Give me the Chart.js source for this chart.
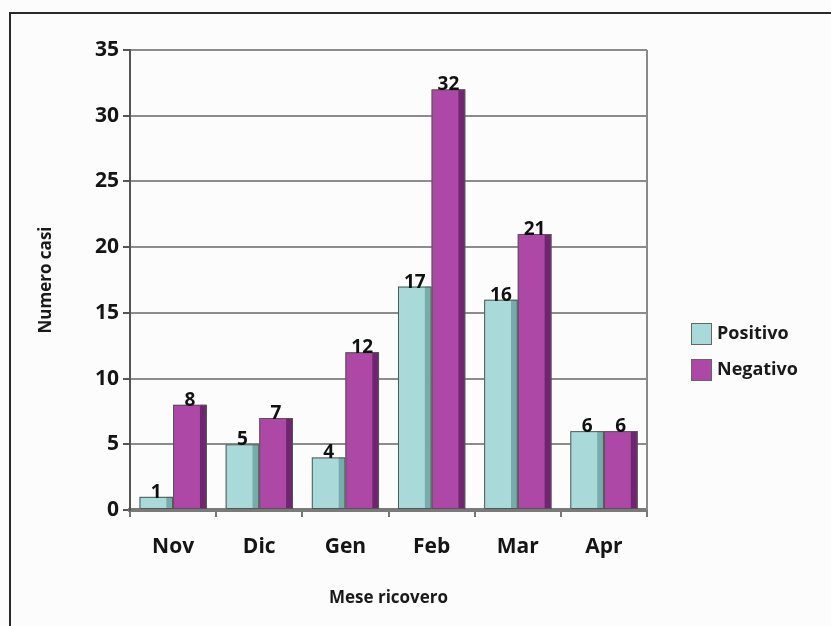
<!DOCTYPE html>
<html>
<head>
<meta charset="utf-8">
<script src="https://cdn.jsdelivr.net/npm/chart.js@4"></script>
<style>
  html, body { margin: 0; padding: 0; background: #ffffff; }
  #wrap { position: relative; width: 831px; height: 626px; }
</style>
</head>
<body>
<div id="wrap"><canvas id="grafico" width="831" height="626"></canvas></div>
<script>
// dati
const mesi = ['Nov', 'Dic', 'Gen', 'Feb', 'Mar', 'Apr'];
const positivo = [1, 5, 4, 17, 16, 6];
const negativo = [8, 7, 12, 32, 21, 6];
const tickY = [0, 5, 10, 15, 20, 25, 30, 35];

const FONT = '"Open Sans", "DejaVu Sans", sans-serif';
const coloriSerie = [
    { fill: '#a9d9d9', dark: '#76acac', label: 'Positivo' },
    { fill: '#ad48a6', dark: '#6f2570', label: 'Negativo' }
];

// cornice, ombra laterale delle barre, etichette dei valori, legenda
const decorazioni = {
    id: 'decorazioni',
    beforeDraw(chart) {
        const ctx = chart.ctx;
        ctx.save();
        ctx.fillStyle = '#fcfcfc';
        ctx.fillRect(0, 0, chart.width, chart.height);
        ctx.strokeStyle = '#2a2a2a';
        ctx.lineWidth = 2;
        ctx.beginPath();
        ctx.moveTo(10, chart.height);
        ctx.lineTo(10, 13);
        ctx.lineTo(chart.width, 13);
        ctx.stroke();
        ctx.restore();
    },
    afterDatasetsDraw(chart) {
        const ctx = chart.ctx;
        const area = chart.chartArea;
        ctx.save();
        // parete destra
        ctx.strokeStyle = '#8a8a8a';
        ctx.lineWidth = 2;
        ctx.beginPath();
        ctx.moveTo(area.right, area.top);
        ctx.lineTo(area.right, area.bottom);
        ctx.stroke();

        chart.data.datasets.forEach((ds, i) => {
            const meta = chart.getDatasetMeta(i);
            meta.data.forEach(bar => {
                const w = bar.width;
                const left = bar.x - w / 2;
                const h = bar.base - bar.y;
                ctx.fillStyle = coloriSerie[i].dark;
                ctx.fillRect(left + w * 0.8, bar.y, w * 0.2, h);
                ctx.strokeStyle = '#555';
                ctx.lineWidth = 1;
                ctx.strokeRect(left + 0.5, bar.y + 0.5, w - 1, h - 1);
            });
        });

        ctx.fillStyle = '#111';
        ctx.font = 'bold 19px ' + FONT;
        ctx.textAlign = 'center';
        ctx.textBaseline = 'alphabetic';
        chart.data.datasets.forEach((ds, i) => {
            const meta = chart.getDatasetMeta(i);
            meta.data.forEach((bar, j) => {
                ctx.fillText(String(ds.data[j]), bar.x, bar.y + 1);
            });
        });

        // legenda
        ctx.font = 'bold 18px ' + FONT;
        ctx.textAlign = 'left';
        ctx.textBaseline = 'middle';
        coloriSerie.forEach((c, i) => {
            const x = area.right + 44;
            const y = area.top + 273 + i * 36;
            ctx.fillStyle = c.fill;
            ctx.fillRect(x, y, 21, 22);
            ctx.strokeStyle = '#666';
            ctx.lineWidth = 1;
            ctx.strokeRect(x + 0.5, y + 0.5, 20, 21);
            ctx.fillStyle = '#1a1a1a';
            ctx.fillText(c.label, x + 26, y + 11);
        });
        ctx.restore();
    }
};

const ctx = document.getElementById('grafico');
new Chart(ctx, {
    type: 'bar',
    data: {
        labels: mesi,
        datasets: [
            {
                label: 'Positivo',
                data: positivo,
                backgroundColor: coloriSerie[0].fill,
                borderWidth: 0,
                categoryPercentage: 0.78,
                barPercentage: 1
            },
            {
                label: 'Negativo',
                data: negativo,
                backgroundColor: coloriSerie[1].fill,
                borderWidth: 0,
                categoryPercentage: 0.78,
                barPercentage: 1
            }
        ]
    },
    options: {
        responsive: false,
        animation: false,
        layout: {
            padding: { left: 30, right: 184, top: 50, bottom: 0 }
        },
        scales: {
            x: {
                afterFit: (scale) => { scale.height = 116; },
                grid: {
                    offset: true,
                    drawOnChartArea: false,
                    drawTicks: true,
                    tickLength: 7,
                    color: '#777',
                    lineWidth: 2
                },
                border: { display: true, color: '#7a7a7a', width: 4 },
                ticks: {
                    color: '#151515',
                    font: { family: FONT, size: 21, weight: 'bold' },
                    padding: 17
                },
                title: {
                    display: true,
                    text: 'Mese ricovero',
                    color: '#1a1a1a',
                    font: { family: FONT, size: 17, weight: 'bold' },
                    padding: { top: 0, bottom: 18 }
                }
            },
            y: {
                min: 0,
                max: 35,
                afterFit: (scale) => { scale.width = 100; },
                afterBuildTicks: (scale) => {
                    scale.ticks = tickY.map(v => ({ value: v }));
                },
                grid: {
                    color: '#8c8c8c',
                    lineWidth: 2,
                    tickLength: 7,
                    tickColor: '#555'
                },
                border: { display: true, color: '#555', width: 2 },
                ticks: {
                    color: '#151515',
                    font: { family: FONT, size: 21, weight: 'bold' },
                    padding: 4
                },
                title: {
                    display: true,
                    text: 'Numero casi',
                    color: '#1a1a1a',
                    font: { family: FONT, size: 17, weight: 'bold' },
                    padding: { top: 6, bottom: 0 }
                }
            }
        },
        plugins: {
            legend: { display: false },
            tooltip: { enabled: false }
        }
    },
    plugins: [decorazioni]
});
</script>
</body>
</html>
